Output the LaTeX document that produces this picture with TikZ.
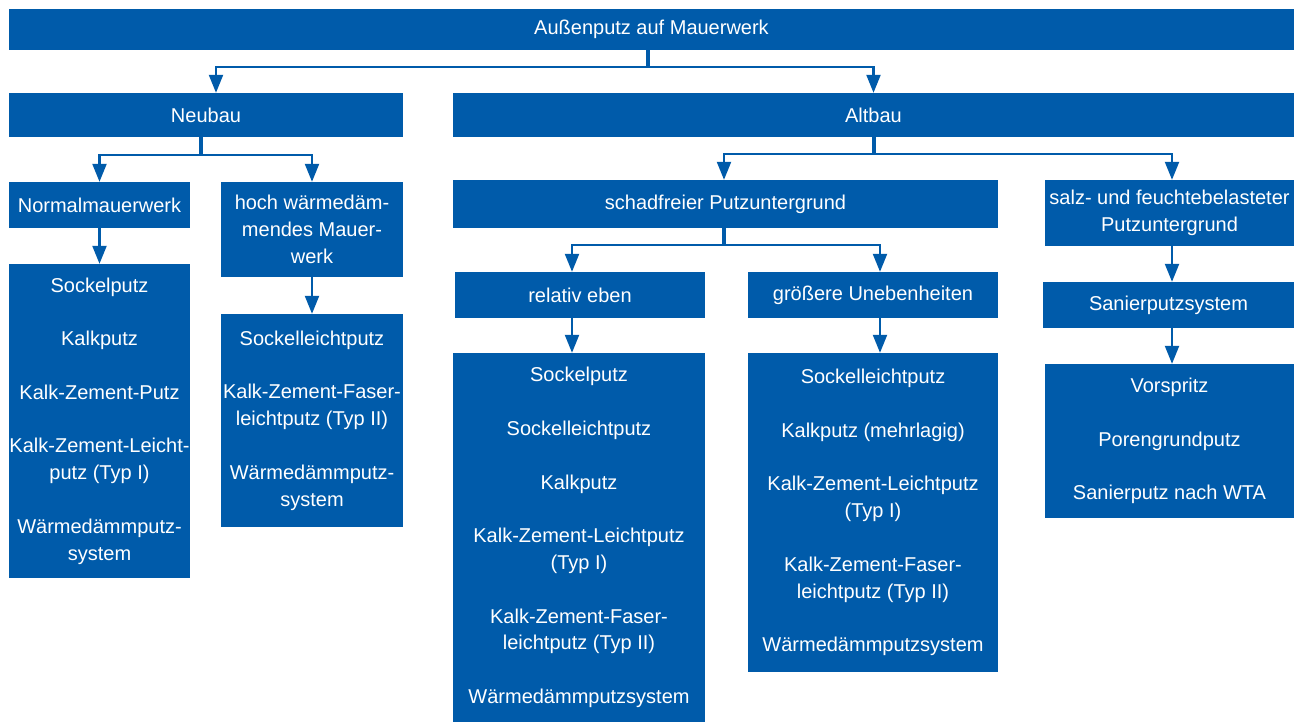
\documentclass[tikz,border=0pt]{standalone}
\usepackage{fontspec}
\setmainfont{Liberation Sans}
\usepackage{tikz}
\usetikzlibrary{arrows.meta,calc}
\usepackage{xcolor}
\definecolor{putzblue}{RGB}{0,91,170}
\newcommand{\itemgap}{26.8pt}
\tikzset{
    box/.style={rectangle, fill=putzblue, text=white, inner sep=0pt, align=center, font=\fontsize{20}{26.8}\selectfont},
    conn/.style={draw=putzblue, line width=2.2pt, -{Triangle[length=18pt,width=14pt]}},
    stem/.style={draw=putzblue, line width=3.5pt},
}
\begin{document}
\begin{tikzpicture}[x=1pt, y=-1pt]
    \useasboundingbox (0,0) rectangle (1300,724);
    % top level
    \node[box, minimum width=1285, minimum height=41] (top) at (651.5,29.5) {Außenputz auf Mauerwerk};
    \node[box, minimum width=394, minimum height=44] (neubau) at (206,115) {Neubau};
    \node[box, minimum width=841, minimum height=44] (altbau) at (873.5,115) {Altbau};
    % Neubau
    \node[box, minimum width=181, minimum height=46] (normal) at (99.5,205) {Normalmauerwerk};
    \node[box, minimum width=182, minimum height=95] (hoch) at (312,229.5) {hoch wärmedäm-\\mendes Mauer-\\werk};
    \node[box, minimum width=181, minimum height=314] (normlist) at (99.5,421)
        {Sockelputz\\[\itemgap]Kalkputz\\[\itemgap]Kalk-Zement-Putz\\[\itemgap]Kalk-Zement-Leicht-\\putz (Typ I)\\[\itemgap]Wärmedämmputz-\\system};
    \node[box, minimum width=182, minimum height=213] (hochlist) at (312,420.5)
        {Sockelleichtputz\\[\itemgap]Kalk-Zement-Faser-\\leichtputz (Typ II)\\[\itemgap]Wärmedämmputz-\\system};
    % Altbau
    \node[box, minimum width=545, minimum height=48] (schad) at (725.5,204) {schadfreier Putzuntergrund};
    \node[box, minimum width=249, minimum height=66] (salz) at (1169.5,213) {salz- und feuchtebelasteter\\Putzuntergrund};
    \node[box, minimum width=250, minimum height=46] (eben) at (580,295) {relativ eben};
    \node[box, minimum width=250, minimum height=46] (uneben) at (873,295) {größere Unebenheiten};
    \node[box, minimum width=252, minimum height=369] (ebenlist) at (579,537.5)
        {Sockelputz\\[\itemgap]Sockelleichtputz\\[\itemgap]Kalkputz\\[\itemgap]Kalk-Zement-Leichtputz\\(Typ I)\\[\itemgap]Kalk-Zement-Faser-\\leichtputz (Typ II)\\[\itemgap]Wärmedämmputzsystem};
    \node[box, minimum width=250, minimum height=319] (unebenlist) at (873,512.5)
        {Sockelleichtputz\\[\itemgap]Kalkputz (mehrlagig)\\[\itemgap]Kalk-Zement-Leichtputz\\(Typ I)\\[\itemgap]Kalk-Zement-Faser-\\leichtputz (Typ II)\\[\itemgap]Wärmedämmputzsystem};
    \node[box, minimum width=251, minimum height=46] (sanier) at (1168.5,305) {Sanierputzsystem};
    \node[box, minimum width=249, minimum height=154] (sanierlist) at (1169.5,441)
        {Vorspritz\\[\itemgap]Porengrundputz\\[\itemgap]Sanierputz nach WTA};
    % branches
    \coordinate (j0) at (648,67);
    \draw[stem] (top.south -| j0) -- (j0);
    \draw[conn] (j0) -| ([xshift=10pt]neubau.north);
    \draw[conn] (j0) -| (altbau.north);
    \coordinate (j1) at (201,155);
    \draw[stem] (neubau.south -| j1) -- (j1);
    \draw[conn] (j1) -| (normal.north);
    \draw[conn] (j1) -| (hoch.north);
    \coordinate (j2) at (874,154);
    \draw[stem] (altbau.south -| j2) -- (j2);
    \draw[conn] (j2) -| ([xshift=-1.5pt]schad.north);
    \draw[conn] (j2) -| ([xshift=2.5pt]salz.north);
    \coordinate (j3) at (724,245);
    \draw[stem] (schad.south -| j3) -- (j3);
    \draw[conn] (j3) -| ([xshift=-8pt]eben.north);
    \draw[conn] (j3) -| ([xshift=7pt]uneben.north);
    % straight arrows
    \draw[conn] (normal.south) -- (normlist.north);
    \draw[conn] (hoch.south) -- (hochlist.north);
    \draw[conn] ([xshift=-8pt]eben.south) -- ([xshift=-8pt]eben.south |- ebenlist.north);
    \draw[conn] ([xshift=7pt]uneben.south) -- ([xshift=7pt]unebenlist.north);
    \draw[conn] ([xshift=2.5pt]salz.south) -- ([xshift=2.5pt]salz.south |- sanier.north);
    \draw[conn] ([xshift=3.5pt]sanier.south) -- ([xshift=3.5pt]sanier.south |- sanierlist.north);
\end{tikzpicture}
\end{document}
